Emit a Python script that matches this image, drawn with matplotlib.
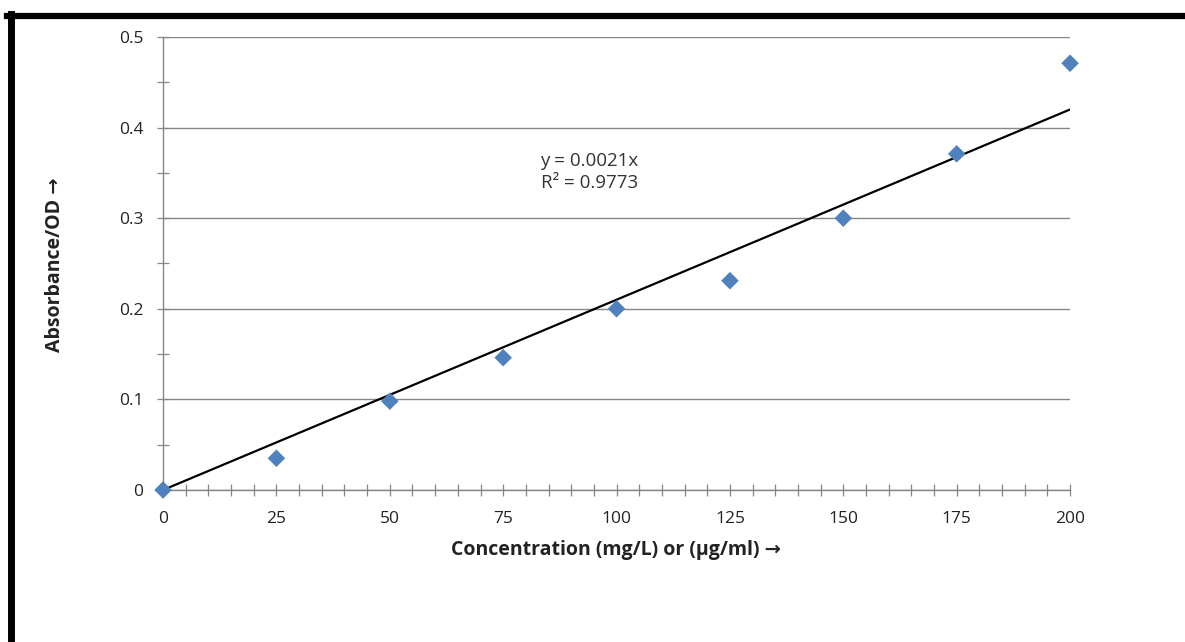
import numpy as np
import matplotlib.pyplot as plt
from matplotlib.ticker import MultipleLocator
from matplotlib.lines import Line2D

plt.rcParams['font.family'] = ['Open Sans', 'DejaVu Sans']

# data
conc = [0, 25, 50, 75, 100, 125, 150, 175, 200]
absorb = [0.0, 0.035, 0.098, 0.146, 0.200, 0.231, 0.300, 0.371, 0.471]
slope = 0.0021
r2 = 0.9773

fig = plt.figure(figsize=(11.85, 6.42), dpi=100)
ax = fig.add_axes([0.1376, 0.2368, 0.7654, 0.7056])

# horizontal gridlines
ax.set_axisbelow(True)
ax.grid(axis='y', color='#868686', linewidth=1.0)
ax.grid(axis='x', visible=False)

# trendline through origin
xs = np.array([0, 200])
ax.plot(xs, slope * xs, color='black', linewidth=1.6, zorder=3)

ax.scatter(conc, absorb, marker='D', s=80, color='#4F81BD', zorder=4,
           clip_on=False, edgecolors='none')

ax.text(94, 0.351, 'y = 0.0021x\nR² = %.4f' % r2, ha='center', va='center',
        fontsize=13.5, color='#333333', linespacing=1.25)

ax.set_xlim(0, 200)
ax.set_ylim(0, 0.5)
ax.xaxis.set_major_locator(MultipleLocator(25))
ax.xaxis.set_minor_locator(MultipleLocator(5))
ax.yaxis.set_major_locator(MultipleLocator(0.1))
ax.yaxis.set_minor_locator(MultipleLocator(0.05))
ax.set_yticks([0, 0.1, 0.2, 0.3, 0.4, 0.5])
ax.set_yticklabels(['0', '0.1', '0.2', '0.3', '0.4', '0.5'])

for s in ['top', 'right']:
    ax.spines[s].set_visible(False)
for s in ['left', 'bottom']:
    ax.spines[s].set_color('#868686')
    ax.spines[s].set_linewidth(1.0)

ax.tick_params(which='both', direction='inout', length=8, width=0.9,
               color='#868686', labelsize=12.5, labelcolor='#222222')
ax.tick_params(axis='x', which='major', pad=11)
ax.tick_params(axis='y', which='major', pad=10)

# axis titles
fig.text(616 / 1185, 1 - 550 / 642, 'Concentration (mg/L) or (µg/ml) →',
         fontsize=14, fontweight='bold', color='#222222', ha='center', va='center')
fig.text(55 / 1185, 1 - 265 / 642, 'Absorbance/OD →', fontsize=14,
         fontweight='bold', color='#222222', rotation=90, ha='center', va='center')

# thick frame on top and left
fig.add_artist(Line2D([0.006, 1.0], [0.9745, 0.9745], transform=fig.transFigure,
                      color='black', linewidth=4.5))
fig.add_artist(Line2D([0.0092, 0.0092], [0.0, 0.978], transform=fig.transFigure,
                      color='black', linewidth=5))

fig.savefig('out.png', dpi=100)
